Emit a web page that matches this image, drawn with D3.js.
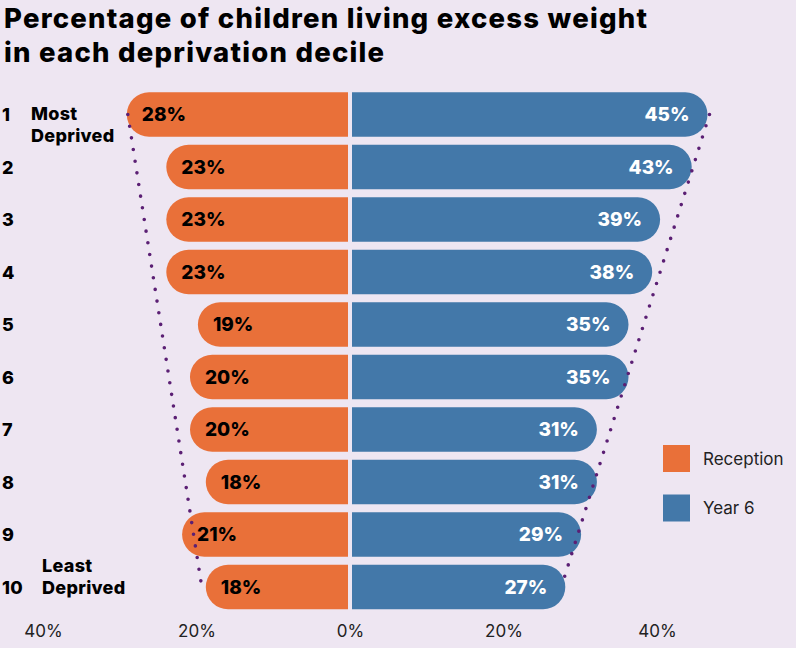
<!DOCTYPE html>
<html>
<head>
<meta charset="utf-8">
<script src="https://cdn.jsdelivr.net/npm/d3@7"></script>
<style>
  html, body { margin: 0; padding: 0; background: #EEE6F2; }
  svg { display: block; }
  text { font-family: Inter, "Noto Sans", sans-serif; }
</style>
</head>
<body>
<svg id="chart" width="796" height="648"></svg>
<script>
// Deprivation deciles, 1 = most deprived
const deciles = ["1", "2", "3", "4", "5", "6", "7", "8", "9", "10"];
// Share of children with excess weight (%)
const reception = [28, 23, 23, 23, 19, 20, 20, 18, 21, 18];
const year6 = [45, 43, 39, 38, 35, 35, 31, 31, 29, 27];
const seriesNames = ["Reception", "Year 6"];
const axisTicks = [-40, -20, 0, 20, 40];

const colors = { Reception: "#E97039", "Year 6": "#4378A9" };
const W = 796, H = 648;
const svg = d3.select("#chart");

svg.append("rect").attr("width", W).attr("height", H).attr("fill", "#EEE6F2");

// Title, stretched to span the chart width
const title = svg.append("text")
  .attr("font-weight", 800).attr("font-size", 27.5).attr("fill", "#000");
const t1 = title.append("tspan").attr("x", 4).attr("y", 28).text("Percentage of children living excess weight");
const t2 = title.append("tspan").attr("x", 4).attr("y", 62).text("in each deprivation decile");
const fitWidth = (sel, target) => {
  const w = sel.node().getComputedTextLength();
  const n = sel.text().length;
  sel.attr("letter-spacing", ((target - w) / (n - 1)).toFixed(3));
  return (target - w) / (n - 1);
};
const ls = fitWidth(t1, 643);
t2.attr("letter-spacing", ls.toFixed(3));

// Scales
const x = d3.scaleLinear().domain([-50, 50]).range([350 - 395, 350 + 395]);
const y = d3.scaleBand().domain(deciles).range([88.3, 613.3]).paddingInner(0.152).paddingOuter(0.076);
const tickScale = d3.scaleLinear().domain([-40, 40]).range([43, 657]);
const gap = 2;
const bh = y.bandwidth();
const r = bh / 2;

function barPath(x0, x1, top, dir) {
  // square at x0 (centre), rounded cap at x1 (outer end)
  const p = d3.path();
  if (dir > 0) {
    p.moveTo(x0, top);
    p.lineTo(x1 - r, top);
    p.arc(x1 - r, top + r, r, -Math.PI / 2, Math.PI / 2);
    p.lineTo(x0, top + bh);
  } else {
    p.moveTo(x0, top);
    p.lineTo(x1 + r, top);
    p.arc(x1 + r, top + r, r, -Math.PI / 2, Math.PI / 2, true);
    p.lineTo(x0, top + bh);
  }
  p.closePath();
  return p.toString();
}

const rows = deciles.map((d, i) => ({ d, rec: reception[i], y6: year6[i] }));

const g = svg.append("g");
g.selectAll("path.rec").data(rows).join("path")
  .attr("class", "rec")
  .attr("fill", colors.Reception)
  .attr("d", d => barPath(x(0) - gap, x(-d.rec) - gap, y(d.d), -1));

g.selectAll("path.y6").data(rows).join("path")
  .attr("class", "y6")
  .attr("fill", colors["Year 6"])
  .attr("d", d => barPath(x(0) + gap, x(d.y6) + gap, y(d.d), 1));

// Value labels
g.selectAll("text.recLab").data(rows).join("text")
  .attr("x", d => x(-d.rec) - gap + 15)
  .attr("y", d => y(d.d) + bh / 2)
  .attr("dy", "0.36em")
  .attr("font-weight", 800).attr("font-size", 19).attr("fill", "#000")
  .text(d => d.rec + "%");

g.selectAll("text.y6Lab").data(rows).join("text")
  .attr("x", d => x(d.y6) + gap - 18)
  .attr("y", d => y(d.d) + bh / 2)
  .attr("dy", "0.36em")
  .attr("text-anchor", "end")
  .attr("font-weight", 800).attr("font-size", 19).attr("fill", "#fff")
  .text(d => d.y6 + "%");

// Dotted funnel outlines
const first = rows[0], last = rows[rows.length - 1];
const funnel = [
  [[x(-first.rec) - gap + 1, y(first.d) + bh / 2], [x(-last.rec) - gap - 4, y(last.d) + bh / 2]],
  [[x(first.y6) + gap + 2, y(first.d) + bh / 2], [x(last.y6) + gap - 4, y(last.d) + bh / 2]]
];
svg.selectAll("line.funnel").data(funnel).join("line")
  .attr("x1", d => d[0][0]).attr("y1", d => d[0][1])
  .attr("x2", d => d[1][0]).attr("y2", d => d[1][1])
  .attr("stroke", "#5B1F74").attr("stroke-width", 3.6)
  .attr("stroke-linecap", "round").attr("stroke-dasharray", "0 11.8");

// Decile labels
const left = svg.append("g").attr("font-weight", 800).attr("font-size", 18).attr("fill", "#000")
  .attr("letter-spacing", 0.3);
left.selectAll("text.num").data(rows).join("text")
  .attr("x", 2).attr("y", d => y(d.d) + bh / 2).attr("dy", "0.36em")
  .text(d => d.d);
left.append("text").attr("x", 31).attr("y", y("1") + bh / 2 - 1).attr("dy", "0.36em").text("Most");
left.append("text").attr("x", 31).attr("y", y("1") + bh / 2 + 21).attr("dy", "0.36em").text("Deprived");
left.append("text").attr("x", 42).attr("y", y("10") + bh / 2 - 22).attr("dy", "0.36em").text("Least");
left.append("text").attr("x", 42).attr("y", y("10") + bh / 2).attr("dy", "0.36em").text("Deprived");

// Bottom axis
const axis = svg.append("g").attr("transform", "translate(0,625)")
  .call(d3.axisBottom(tickScale).tickValues(axisTicks).tickSize(0).tickPadding(0)
    .tickFormat(v => Math.abs(v) + "%"));
axis.select(".domain").remove();
axis.selectAll("text").attr("font-family", "Inter, sans-serif").attr("font-size", 17).attr("fill", "#222");

// Legend
const legend = svg.append("g").selectAll("g").data(seriesNames).join("g")
  .attr("transform", (d, i) => `translate(663,${445 + i * 49.5})`);
legend.append("rect").attr("width", 27).attr("height", 27).attr("fill", d => colors[d]);
legend.append("text").attr("x", 40).attr("y", 13.5).attr("dy", "0.36em")
  .attr("font-size", 17).attr("fill", "#222").text(d => d);
</script>
</body>
</html>
